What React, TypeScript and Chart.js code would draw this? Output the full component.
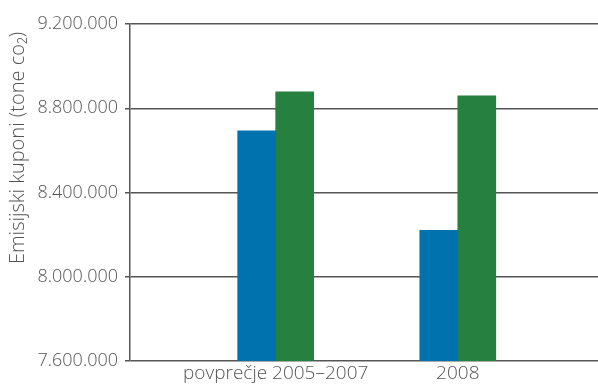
import React, { useEffect, useRef } from "react";
import { Chart, registerables } from "chart.js";

Chart.register(...registerables);

const CATEGORIES = ["povprečje 2005–2007", "2008"];
const SERIES_BLUE = [8693000, 8220000];
const SERIES_GREEN = [8878000, 8859000];
const Y_MIN = 7600000;
const Y_MAX = 9200000;
const Y_STEP = 400000;
const Y_TITLE = "Emisijski kuponi (tone co₂)";

const FONT = "'Open Sans', 'Noto Sans', sans-serif";
const TEXT = "#555555";
const LINE = "#555555";

function fmt(v: number): string {
  return Math.round(v).toString().replace(/\B(?=(\d{3})+(?!\d))/g, ".");
}

const yTitlePlugin = {
  id: "yTitle",
  afterDraw(chart: any) {
    const ctx = chart.ctx;
    ctx.save();
    ctx.translate(18, 148);
    ctx.rotate(-Math.PI / 2);
    ctx.textAlign = "center";
    ctx.textBaseline = "middle";
    ctx.fillStyle = TEXT;
    ctx.font = `300 20px ${FONT}`;
    ctx.fillText(Y_TITLE, 0, 0);
    ctx.restore();
  },
};

export default function App() {
  const ref = useRef<HTMLCanvasElement | null>(null);
  useEffect(() => {
    document.body.style.margin = "0";
    const ctx = ref.current!.getContext("2d")!;
    const chart = new Chart(ctx, {
      type: "bar",
      data: {
        datasets: [
          {
            label: "A",
            data: SERIES_BLUE.map((v, i) => ({ x: i + 1, y: v })),
            backgroundColor: "#0073ae",
            barThickness: 38,
          },
          {
            label: "B",
            data: SERIES_GREEN.map((v, i) => ({ x: i + 1, y: v })),
            backgroundColor: "#26803f",
            barThickness: 38,
          },
        ],
      },
      options: {
        animation: false,
        responsive: false,
        layout: { padding: { top: 24, right: 0, bottom: 0, left: 0 } },
        plugins: { legend: { display: false }, tooltip: { enabled: false } },
        scales: {
          x: {
            type: "linear",
            min: 0.2,
            max: 2.77,
            offset: false,
            grid: { display: false, drawTicks: false },
            border: { display: false },
            afterBuildTicks: (scale: any) => {
              scale.ticks = CATEGORIES.map((_, i) => ({ value: i + 1 }));
            },
            afterFit: (scale: any) => {
              scale.height = 24;
            },
            ticks: {
              autoSkip: false,
              maxRotation: 0,
              padding: 1,
              color: TEXT,
              font: { family: FONT, size: 19, weight: "300" as any },
              callback: (v: any) => CATEGORIES[Math.round(Number(v)) - 1] ?? "",
            },
          },
          y: {
            min: Y_MIN,
            max: Y_MAX,
            afterFit: (scale: any) => {
              scale.width = 130;
            },
            ticks: {
              stepSize: Y_STEP,
              padding: 7,
              color: TEXT,
              font: { family: FONT, size: 18, weight: "300" as any },
              callback: (v: any) => fmt(Number(v)),
            },
            grid: { color: LINE, lineWidth: 1.5, tickLength: 5 },
            border: { display: true, color: LINE, width: 1.5 },
            title: { display: false },
          },
        },
      },
      plugins: [yTitlePlugin],
    });
    return () => chart.destroy();
  }, []);
  return (
    <div style={{ position: "absolute", left: 0, top: 0, width: 598, height: 385 }}>
      <canvas ref={ref} width={598} height={385} style={{ width: 598, height: 385 }} />
    </div>
  );
}
